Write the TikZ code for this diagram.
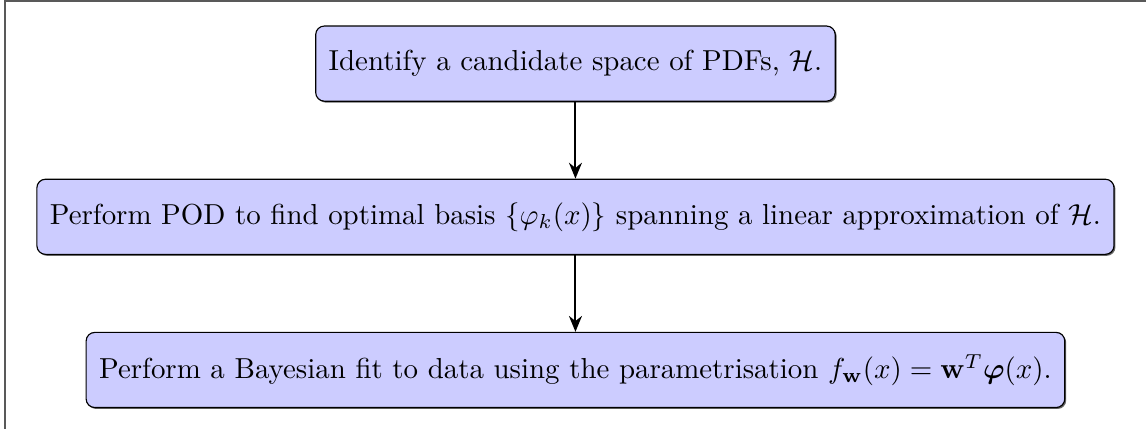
\documentclass[tikz,border=0pt]{standalone}
\usepackage{amsmath,amssymb}
\usepackage{tikz}
\usetikzlibrary{
  arrows.meta,
  positioning,
  shadows
}
\tikzset{
  flowbox/.style={draw, rounded corners=3pt, fill=blue!20,
    minimum height=26pt, inner xsep=4.5pt,
    align=center, font=\normalsize,
    drop shadow={shadow xshift=0.5pt, shadow yshift=-0.5pt,
      fill=black!60, opacity=1}},
  arr/.style={-{Stealth[length=5.5pt, width=4.5pt]}, line width=0.7pt},
  frameline/.style={draw=black!65, line width=0.7pt},
}

\begin{document}
\begin{tikzpicture}[
  node distance=26.6pt
]
  \useasboundingbox (-199.1pt,-126.4pt) rectangle (197.4pt,22pt);
  % frame
  \draw[frameline] (197.4pt,21.6pt) -- (-197.4pt,21.6pt) -- (-197.4pt,-126.4pt);

  % steps
  \node[flowbox] (space) at (0,0) {Identify a candidate space of PDFs, $\mathcal{H}$.};
  \node[flowbox, below=of space] (pod) {Perform POD to find optimal basis $\{\varphi_k(x)\}$ spanning a linear approximation of $\mathcal{H}$.};
  \node[flowbox, below=of pod] (fit) {Perform a Bayesian fit to data using the parametrisation $f_{\mathbf{w}}(x) = \mathbf{w}^T\boldsymbol{\varphi}(x)$.};

  % arrows
  \draw[arr] (space) -- (pod);
  \draw[arr] (pod) -- (fit);
\end{tikzpicture}
\end{document}
